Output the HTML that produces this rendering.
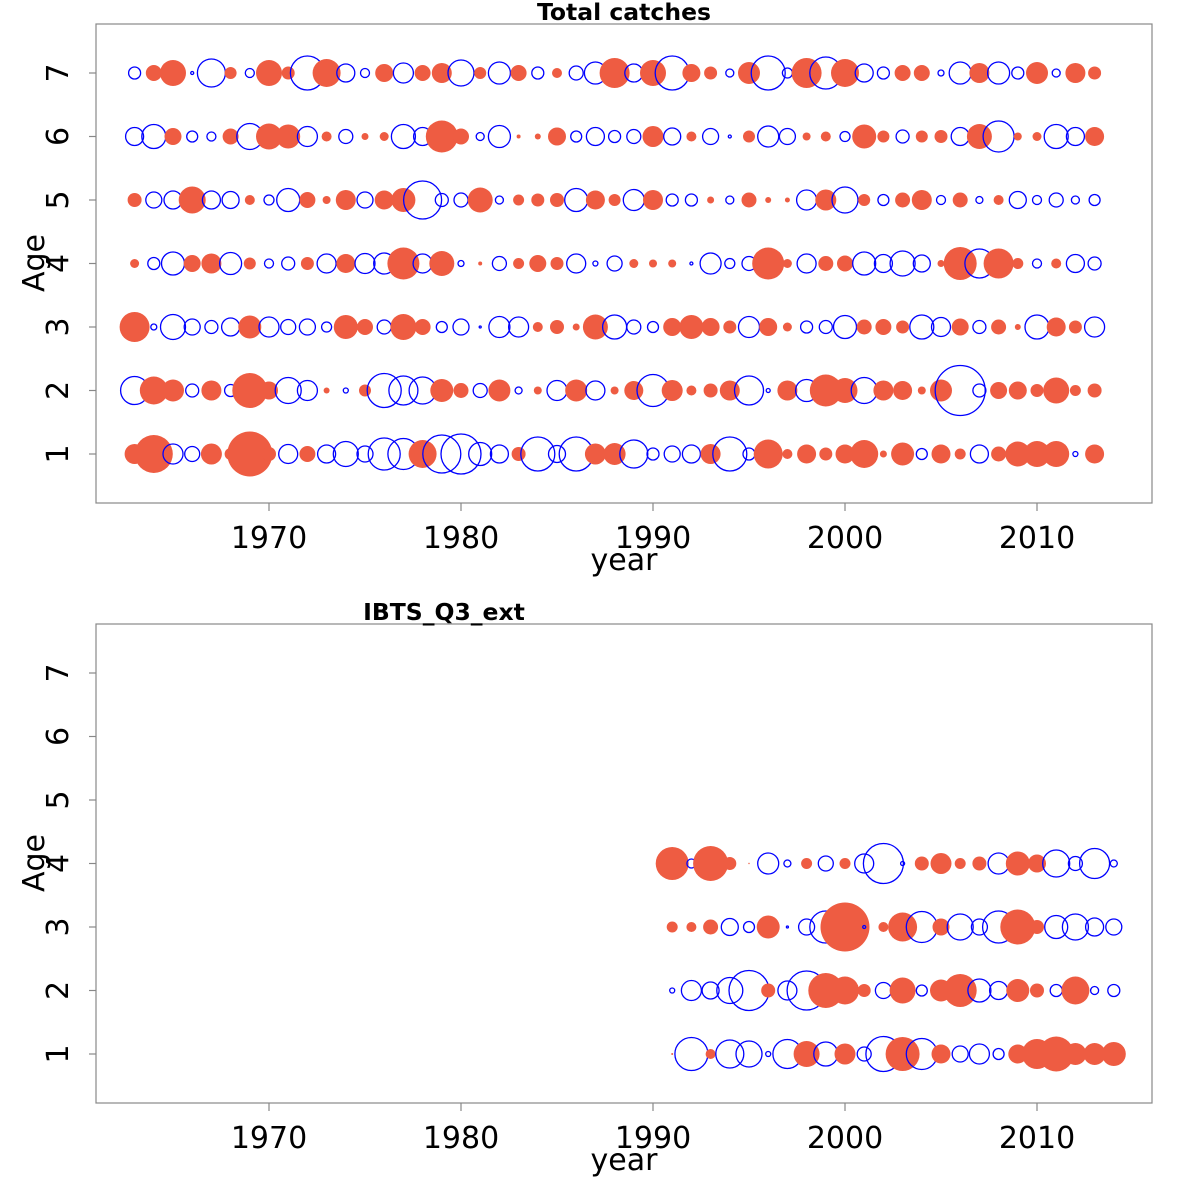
<!DOCTYPE html>
<html><head><meta charset="utf-8">
<style>
html,body{margin:0;padding:0;background:#fff;}
svg{display:block;font-family:"DejaVu Sans","Liberation Sans",sans-serif;}
</style></head>
<body>
<svg id="chart" width="1200" height="1200" viewBox="0 0 1200 1200"></svg>
<script>
// ---- data (signed bubble sizes: + red filled, - blue open) ----
const yearsTop = [1963,1964,1965,1966,1967,1968,1969,1970,1971,1972,1973,1974,1975,1976,1977,1978,1979,1980,1981,1982,1983,1984,1985,1986,1987,1988,1989,1990,1991,1992,1993,1994,1995,1996,1997,1998,1999,2000,2001,2002,2003,2004,2005,2006,2007,2008,2009,2010,2011,2012,2013];
const topAge1 = [10,19,-10,-7.5,10.5,6,22.5,7,-9.5,8,-9,-12.5,-8,-16,-15.5,14,-19,-20,-11.5,-9,7,-17,-8.5,-17,10.5,11,-14,-6,-8,-9,10,-17,-6,14.5,5,9.5,6.5,9.5,14,3.5,11.5,-5.5,9.5,5.5,-9,7.5,12.5,13,13,-2.5,9.5];
const topAge2 = [-14,14,11,-6.5,10,-6,17.5,9,-13,-10,3,-2.5,6,-17,-14.5,-13.5,11.5,7.5,-7,11,-3.5,4,-10,11,-9.5,4,9.5,-16,10.5,5,7,10,-14.5,-2,10,-11,16,12.5,-13,10,9.5,4,11,-25,-6.5,8.5,9,6.5,13,5.5,7];
const topAge3 = [15,-3,-12.5,-8,-6.5,-9,11.5,-10,-7.5,-8,-5,12,8,-7,13,8,-5.5,-8,-1,-10.5,-10,5,7,3.5,12.5,-12,-7,-5.5,9,12,9,6.5,-10.5,9,4.5,-6,-6.5,-11.5,7.5,8,6.5,-12,-9.5,8.5,-6.5,7.5,3,-12,9.5,6.5,-10];
const topAge4 = [4.5,-6,-11.5,8.5,10,-11,6,-4.5,-6.5,6.5,-9.5,9.5,-10,-10.5,16,-9.5,12.5,-3,2,-7,5.5,8.5,6.5,-9.5,-2.5,-7.5,4.5,4,4,-1.5,-10.5,-5,-7,16,4.5,-9.5,7.5,8,-11.5,-9,-12.5,-8.5,3.5,16.5,-14.5,15,5.5,-4.5,5,-9,-6.5];
const topAge5 = [7,-8,-9,13.5,-9,-8.5,5,-5,-11.5,8,4,10,-8,9.5,12,-19,-6.5,-7,12.5,-4,5.5,6.5,7,-11.5,9.5,6,-10.5,10,-6,-6,3.5,-4,7.5,3,2.5,-10,10.5,-13,6,-5.5,7.5,10,-4.5,7.5,-3.5,5,-8.5,-4.5,-7,-4,-5.5];
const topAge6 = [-9,-12,8.5,-5.5,-4.5,8,-13,13,12,-10,5,-7,3.5,4.5,-12,-9,16,8,-4,-11,2,3,9,-5.5,-9,-6,-7,10.5,-8.5,5,-8,-1.5,6,-10.5,-8,4,5,-5,12,6,-6.5,6,6.5,-9,12.5,-15.5,4,4.5,-12,-9,9.5];
const topAge7 = [-6,8,13,-1.5,-14,6,-4.5,13,6.5,-17,14,-9,-4.5,9,-10,8,10,-13,6,-11,8,-6,5,-7,-11,15,-9,13,-17,9,6.5,-4,11,-17,-5,15,-16,14,-9,-6,8,8,-3,-11,10,-11,-6,11,-4,10,6.5];
const yearsBottom = [1991,1992,1993,1994,1995,1996,1997,1998,1999,2000,2001,2002,2003,2004,2005,2006,2007,2008,2009,2010,2011,2012,2013,2014];
const botAge1 = [1,-16.5,5,-14,-13,-2.5,-14.5,13,-12,10.5,-7,-17.5,17,-15.5,9.5,-8,-10,-5.5,9.5,15,17.5,11,11,12];
const botAge2 = [-2.5,-10,-8.5,-13,-20,7,-9.5,-19.5,17.5,14,6.5,-8,13,-5.5,11,16.5,-11.5,-9,11.5,7,-6,14,-4,-6];
const botAge3 = [5.5,5,7.5,-8.5,-5.5,11.5,-1,-8,-16,24.5,-1.5,5,14.5,-15.5,8.5,-13,-8,-16,17.5,7,-11.5,-13,-9,-8];
const botAge4 = [16.5,-4.5,17.5,6.5,0.7,-10.5,-3.5,5.5,-7.5,5.5,-9.5,-20,-2,7,10.5,5.5,7,-10.5,12,9,-13.5,-7,-15,-3.5];
const xTicks = [1970,1980,1990,2000,2010];
const yTicks = [1,2,3,4,5,6,7];

const NS = "http://www.w3.org/2000/svg";
const svg = document.getElementById('chart');
function mk(tag, attrs, parent){
  const e = document.createElementNS(NS, tag);
  for (const k in attrs) e.setAttribute(k, attrs[k]);
  (parent||svg).appendChild(e);
  return e;
}
const xScale = yr => 134.6 + (yr - 1963) * 19.2;
const rScale = v => Math.abs(v);

function panel(top, title, titleX, years, ages, pname){
  const g = mk('g', {});
  
  
  const yScale = a => top + 430 - (a - 1) * 63.5;
  const box = mk('rect', {x:96, y:top, width:1056, height:479, fill:'none', stroke:'#888', 'stroke-width':1.2}, g);
  
  
  const t = mk('text', {x:titleX, y:top-4, 'font-size':23.5, 'font-weight':'bold', 'text-anchor':'middle', fill:'#000'}, g);
  t.textContent = title;
  
  
  xTicks.forEach(v => {
    const x = xScale(v);
    const tk = mk('line', {x1:x, x2:x, y1:top+479, y2:top+487, stroke:'#888', 'stroke-width':1.2}, g);
    
    
    const lb = mk('text', {x:x, y:top+524, 'font-size':30, 'text-anchor':'middle', fill:'#000'}, g);
    lb.textContent = v;
    
    
  });
  yTicks.forEach(v => {
    const y = yScale(v);
    const tk = mk('line', {x1:89, x2:96, y1:y, y2:y, stroke:'#888', 'stroke-width':1.2}, g);
    
    
    const lb = mk('text', {x:0, y:0, 'font-size':30, 'text-anchor':'middle', fill:'#000', transform:`translate(68,${y}) rotate(-90)`}, g);
    lb.textContent = v;
    
    
  });
  const xl = mk('text', {x:624, y:top+546, 'font-size':30, 'text-anchor':'middle', fill:'#000'}, g);
  xl.textContent = 'year';
  
  
  const yl = mk('text', {x:0, y:0, 'font-size':30, 'text-anchor':'middle', fill:'#000', transform:`translate(44,${top+239}) rotate(-90)`}, g);
  yl.textContent = 'Age';
  
  
  ages.forEach((vals, ai) => {
    const y = yScale(ai + 1);
    vals.forEach((v, i) => {
      const x = xScale(years[i]);
      const r = rScale(v);
      let c;
      if (v >= 0) c = mk('circle', {cx:x, cy:y, r:r, fill:'#EE5C42', stroke:'none'}, g);
      else c = mk('circle', {cx:x, cy:y, r:r, fill:'none', stroke:'#0000FF', 'stroke-width':1.3}, g);
      
      
    });
  });
}
panel(24, 'Total catches', 624, yearsTop, [topAge1,topAge2,topAge3,topAge4,topAge5,topAge6,topAge7], 'total-catches-panel');
panel(624, 'IBTS_Q3_ext', 444, yearsBottom, [botAge1,botAge2,botAge3,botAge4], 'ibts-q3-panel');
</script>
</body></html>
